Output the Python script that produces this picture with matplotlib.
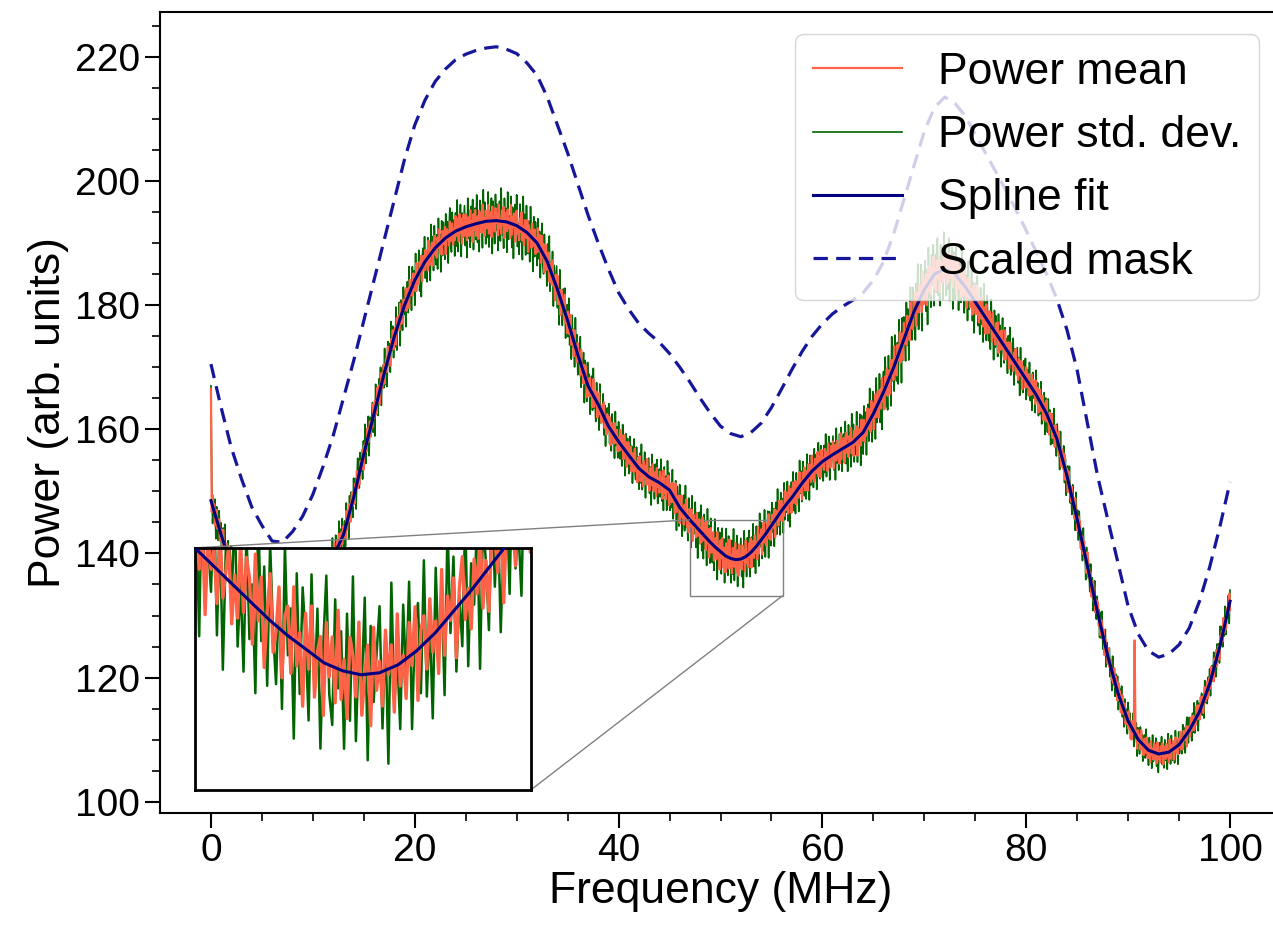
import numpy as np
import matplotlib.pyplot as plt
from mpl_toolkits.axes_grid1.inset_locator import mark_inset

plt.rcParams['font.family'] = ['Liberation Sans', 'DejaVu Sans']

# spline fit (1 MHz, 0.5 MHz around the zoomed dip)
spline_freq = np.concatenate([np.arange(0, 46), np.arange(46, 57, 0.5), np.arange(57, 101)])
spline_vals = [
    148.5, 143.0, 138.0, 133.0, 129.0, 126.0, 124.5, 124.5, 125.5, 128.0,
    131.5, 135.5, 139.5, 143.0, 149.0, 156.0, 162.5, 169.0, 175.0, 180.0,
    184.0, 187.0, 189.2, 190.8, 191.9, 192.6, 193.1, 193.5, 193.6, 193.4,
    192.8, 191.7, 190.0, 187.0, 182.5, 177.5, 172.0, 167.0, 164.0, 160.5,
    158.0, 155.8, 153.7, 152.3, 151.4, 150.2,
    147.4, 146.4, 145.4, 144.5, 143.6, 142.7, 141.8, 141.0, 140.3, 139.6,
    139.2, 139.0, 139.1, 139.5, 140.2, 141.1, 142.2, 143.3, 144.5, 145.7,
    146.9, 148.0,
    149.0, 151.3, 153.3, 154.8, 155.9, 156.9, 157.9, 159.5, 162.5, 166.0,
    170.0, 174.5, 179.0, 182.5, 185.0, 185.8, 185.0, 183.0, 180.5, 178.0,
    175.5, 173.0, 170.5, 168.0, 165.5, 162.5, 158.5, 152.5, 145.5, 138.0,
    130.5, 123.5, 117.5, 113.0, 110.0, 108.3, 107.7, 108.0, 109.2, 111.5,
    114.5, 119.0, 125.0, 132.3,
]

# scaled mask (dashed)
mask_freq = np.arange(0, 101)
mask_vals = [
    170.5, 163.5, 157.0, 152.0, 147.5, 144.5, 142.0, 141.8, 143.5, 146.0,
    149.5, 154.0, 159.0, 165.0, 171.0, 177.5, 184.0, 190.5, 197.0, 203.5,
    209.0, 213.0, 216.0, 218.0, 219.5, 220.4, 221.0, 221.4, 221.6, 221.2,
    220.5, 219.0, 217.0, 213.5, 209.0, 204.5, 199.5, 194.5, 190.0, 185.8,
    182.0, 179.3, 177.0, 175.4, 174.0, 172.2, 170.0, 167.6, 165.0, 162.6,
    160.5, 159.3, 158.8, 159.5, 161.0, 163.5, 166.5, 169.6, 172.5, 175.0,
    177.0, 178.6, 179.8, 180.8, 182.0, 184.0, 187.0, 191.5, 197.0, 202.5,
    208.0, 211.8, 213.5, 212.5, 210.5, 207.5, 204.5, 201.5, 198.5, 195.3,
    192.0, 188.5, 185.0, 181.0, 176.0, 169.5, 161.0, 152.5, 145.5, 138.5,
    131.5, 127.0, 124.3, 123.3, 123.8, 125.3, 128.0, 132.3, 137.8, 144.3,
    151.5,
]

# band half-widths of the noisy traces, every 10 MHz
amp_freq = np.arange(0, 101, 10)
amp_mean = [2.0, 2.0, 2.5, 3.0, 2.5, 3.0, 2.5, 3.5, 2.5, 2.0, 2.0]
amp_std = [3.5, 3.5, 4.5, 5.5, 4.0, 5.0, 4.0, 6.5, 4.0, 3.0, 3.0]

# channel-to-channel scatter (hand typed, relative units)
ripple_mean = [
    0.4, -0.7, 0.9, -0.2, 0.6, -0.9, 0.1, 0.8, -0.5, -0.1,
    0.7, -0.8, 0.3, 0.5, -0.6, 0.9, -0.4, 0.2, -1.0, 0.6,
    -0.3, 0.8, -0.7, 0.1, 0.4, -0.9, 0.7, -0.2, 0.5, -0.6,
    1.0, -0.5, 0.2, -0.8, 0.6, 0.3, -0.4, 0.9, -0.7, 0.0,
    0.5, -0.9, 0.8, -0.3, 0.2, -0.6, 0.7, -0.1, 0.4, -0.8,
    0.9, -0.4, 0.1, -0.7, 0.6, -0.2, 0.8, -0.9, 0.3, 0.5,
    -0.5, 0.7, -0.3, 0.2, -0.8, 1.0, -0.6, 0.4, -0.1, 0.6,
    -0.9, 0.3, 0.8, -0.4, 0.1, -0.7, 0.5, -0.2, 0.9, -0.6,
    0.2, -0.8, 0.6, 0.4, -0.3, 0.7, -1.0, 0.5, -0.1, 0.3,
    -0.6, 0.8, -0.4, 0.1, 0.6, -0.7, 0.2, -0.5, 0.9, -0.3, 0.7,
]
ripple_std = [
    -0.5, 0.9, -0.8, 0.3, -0.2, 0.7, -1.0, 0.6, 0.1, -0.7,
    0.8, -0.3, 0.5, -0.9, 0.2, 0.6, -0.6, 1.0, -0.4, 0.0,
    -0.8, 0.7, -0.1, 0.4, -0.9, 0.9, -0.5, 0.2, -0.3, 0.8,
    -0.7, 0.5, -1.0, 0.3, 0.6, -0.2, 0.9, -0.6, 0.1, -0.8,
    0.7, -0.4, 0.2, -0.9, 1.0, -0.3, 0.5, -0.7, 0.8, -0.1,
    -0.6, 0.4, -0.8, 0.9, -0.2, 0.3, -1.0, 0.7, -0.5, 0.6,
    0.1, -0.7, 0.8, -0.4, 0.5, -0.9, 0.2, 0.9, -0.3, -0.6,
    0.7, -0.2, 0.4, -0.8, 0.6, -0.5, 1.0, -0.7, 0.3, -0.1,
    0.8, -0.9, 0.5, -0.3, 0.2, 0.7, -0.6, 0.4, -1.0, 0.9,
    -0.4, 0.1, -0.7, 0.6, -0.2, 0.8, -0.8, 0.3, 0.5, -0.5,
    0.9, -0.6, 0.2, -0.9, 0.7, -0.3, 0.4, -0.8, 1.0, -0.2,
    0.6, -0.7, 0.1,
]

# single-channel spikes
spike_freq = [0.0, 90.64]
spike_mean = [166.5, 126.0]
spike_std = [167.0, 110.5]

# build the channel traces
freq = np.arange(0, 100.0001, 0.08)
idx = np.arange(len(freq))
base = np.interp(freq, spline_freq, spline_vals)
power_mean = base + np.interp(freq, amp_freq, amp_mean) * np.array(ripple_mean)[idx % len(ripple_mean)]
power_std = base + np.interp(freq, amp_freq, amp_std) * np.array(ripple_std)[idx % len(ripple_std)]
for f, m, s in zip(spike_freq, spike_mean, spike_std):
    i = np.argmin(np.abs(freq - f))
    power_mean[i] = m
    power_std[i] = s

fig = plt.figure(figsize=(12.73, 9.26), dpi=100)
ax = fig.add_axes([160 / 1273, 113 / 926, 1121 / 1273, 801 / 926])

ax.plot(freq, power_mean, color='tomato', lw=1.6, zorder=2, label='Power mean')
ax.plot(freq, power_std, color='darkgreen', lw=1.2, zorder=1, label='Power std. dev.')
ax.plot(spline_freq, spline_vals, color='navy', lw=2.2, zorder=3, label='Spline fit')
ax.plot(mask_freq, mask_vals, color='#16169a', lw=2.3, ls='--', dashes=(4.5, 2.6),
        zorder=3, label='Scaled mask')

ax.set_xlim(-5, 105)
ax.set_ylim(98.2, 227.2)
ax.set_xticks([0, 20, 40, 60, 80, 100])
ax.set_yticks([100, 120, 140, 160, 180, 200, 220])
ax.set_xticks(np.arange(5, 105, 5), minor=True)
ax.set_yticks(np.arange(100, 227, 5), minor=True)
ax.tick_params(which='major', direction='out', length=11, width=1.5, labelsize=28)
ax.tick_params(which='minor', direction='out', length=6, width=1.2)
for sp in ax.spines.values():
    sp.set_linewidth(1.5)
ax.set_xlabel('Frequency (MHz)', fontsize=32, labelpad=1.5)
ax.set_ylabel('Power (arb. units)', fontsize=32)
ax.legend(loc='upper right', fontsize=32)

# zoom on the dip around 50 MHz
axins = ax.inset_axes([0.031, 0.029, 0.30, 0.302])
axins.plot(freq, power_mean, color='tomato', lw=2.4, zorder=2)
axins.plot(freq, power_std, color='darkgreen', lw=1.8, zorder=1)
axins.plot(spline_freq, spline_vals, color='navy', lw=2.2, zorder=3)
axins.set_xlim(47, 56.1)
axins.set_ylim(133.2, 145.4)
axins.set_xticks([])
axins.set_yticks([])
for sp in axins.spines.values():
    sp.set_linewidth(2)
    sp.set_color('black')
mark_inset(ax, axins, loc1=2, loc2=4, fc='none', ec='0.5', lw=1)

plt.savefig('out.png', dpi=100)
